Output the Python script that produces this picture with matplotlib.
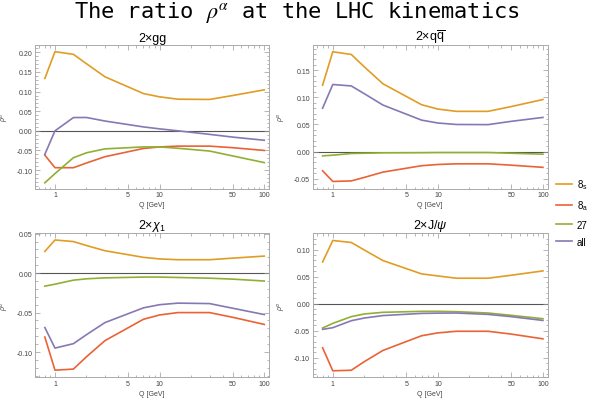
import matplotlib
matplotlib.use('Agg')
import matplotlib.pyplot as plt
from matplotlib.lines import Line2D
from matplotlib.ticker import FixedLocator, MultipleLocator, FuncFormatter, NullFormatter

plt.rcParams['font.family'] = ['Liberation Sans', 'DejaVu Sans']
plt.rcParams['mathtext.fontset'] = 'custom'
plt.rcParams['mathtext.rm'] = 'Liberation Sans'
plt.rcParams['mathtext.it'] = 'Liberation Sans:italic'

# energy scale points
Q = [0.8, 1, 1.5, 2, 3, 7, 10, 15, 30, 50, 100]

# 2 x gg
gg_8s = [0.1335, 0.2017, 0.195, 0.171, 0.1378, 0.095, 0.0866, 0.0806, 0.080, 0.090, 0.1045]
gg_8a = [-0.062, -0.094, -0.094, -0.082, -0.066, -0.045, -0.041, -0.039, -0.039, -0.043, -0.050]
gg_27 = [-0.1325, -0.109, -0.0685, -0.056, -0.046, -0.041, -0.041, -0.0445, -0.0515, -0.064, -0.081]
gg_all = [-0.060, 0.0, 0.0338, 0.034, 0.025, 0.010, 0.005, 0.0, -0.009, -0.016, -0.024]

# 2 x q qbar
qq_8s = [0.1225, 0.184, 0.179, 0.156, 0.125, 0.0864, 0.0784, 0.0742, 0.0742, 0.083, 0.096]
qq_8a = [-0.0353, -0.055, -0.054, -0.0475, -0.0378, -0.026, -0.0237, -0.0225, -0.0225, -0.025, -0.029]
qq_27 = [-0.0078, -0.0066, -0.0035, -0.003, -0.0023, -0.002, -0.0017, -0.0017, -0.0017, -0.003, -0.0047]
qq_all = [0.080, 0.1237, 0.121, 0.1066, 0.0858, 0.058, 0.0527, 0.050, 0.0497, 0.0558, 0.063]

# 2 x chi_1
chi_8s = [0.0275, 0.042, 0.040, 0.035, 0.0284, 0.020, 0.018, 0.017, 0.017, 0.019, 0.0216]
chi_8a = [-0.081, -0.123, -0.1216, -0.106, -0.0856, -0.0585, -0.053, -0.050, -0.050, -0.056, -0.065]
chi_27 = [-0.0165, -0.014, -0.0089, -0.0072, -0.006, -0.005, -0.005, -0.0055, -0.0064, -0.0076, -0.010]
chi_all = [-0.069, -0.095, -0.0894, -0.078, -0.0627, -0.044, -0.040, -0.038, -0.0386, -0.0445, -0.0525]

# 2 x J/psi
jp_8s = [0.077, 0.1167, 0.113, 0.099, 0.0796, 0.055, 0.0512, 0.047, 0.047, 0.0525, 0.0605]
jp_8a = [-0.0815, -0.124, -0.123, -0.107, -0.0864, -0.0593, -0.054, -0.051, -0.051, -0.0562, -0.065]
jp_27 = [-0.045, -0.0364, -0.024, -0.019, -0.016, -0.0142, -0.0142, -0.0148, -0.0173, -0.0216, -0.0278]
jp_all = [-0.0475, -0.0444, -0.0315, -0.0265, -0.022, -0.018, -0.0175, -0.0173, -0.0198, -0.024, -0.031]

labels = [r'8$_\mathrm{s}$', r'8$_\mathrm{a}$', '27', 'all']
colors = ['#E19C24', '#EB6235', '#8FB032', '#8778B3']

panels = [
    (r'2×gg', [gg_8s, gg_8a, gg_27, gg_all], (-0.147, 0.2195)),
    (r'2×q$\overline{\mathrm{q}}$', [qq_8s, qq_8a, qq_27, qq_all], (-0.068, 0.197)),
    (r'2×$\chi_1$', [chi_8s, chi_8a, chi_27, chi_all], (-0.132, 0.0505)),
    (r'2×J/$\psi$', [jp_8s, jp_8a, jp_27, jp_all], (-0.136, 0.130)),
]
# axes rectangles in figure fraction
rects = [
    [0.0586, 0.5286, 0.392, 0.3577],
    [0.5238, 0.5286, 0.3936, 0.3577],
    [0.0586, 0.059, 0.392, 0.3582],
    [0.5238, 0.059, 0.3936, 0.3582],
]

fig = plt.figure(figsize=(5.97, 4.02), dpi=100)

minor_x = [0.7, 0.8, 0.9, 2, 3, 4, 6, 7, 8, 9, 20, 30, 40, 60, 70, 80, 90]

for (title, series, ylim), rect in zip(panels, rects):
    ax = fig.add_axes(rect)
    ax.axhline(0, color='#555555', lw=0.8, zorder=1)
    for s, c in zip(series, colors):
        ax.plot(Q, s, color=c, lw=1.2, zorder=2)
    ax.set_xscale('log')
    ax.set_xlim(0.644, 111)
    ax.set_ylim(*ylim)
    ax.xaxis.set_major_locator(FixedLocator([1, 5, 10, 50, 100]))
    ax.xaxis.set_major_formatter(FuncFormatter(lambda v, p: '%g' % v))
    ax.xaxis.set_minor_locator(FixedLocator(minor_x))
    ax.xaxis.set_minor_formatter(NullFormatter())
    ax.yaxis.set_major_locator(MultipleLocator(0.05))
    ax.yaxis.set_minor_locator(MultipleLocator(0.01))
    ax.yaxis.set_major_formatter(FuncFormatter(lambda v, p: '%.2f' % (round(v, 4) + 0.0)))
    ax.tick_params(which='both', direction='in', top=True, right=True,
                   color='#999999', labelcolor='#444444', labelsize=5, pad=2, width=0.5)
    ax.tick_params(which='major', length=3.5)
    ax.tick_params(which='minor', length=1.8)
    for sp in ax.spines.values():
        sp.set_color('#aaaaaa')
        sp.set_linewidth(0.7)
    ax.set_title(title, fontsize=9, pad=3)
    ax.set_xlabel('Q [GeV]', fontsize=5, color='#444444', labelpad=2)
    ax.set_ylabel(r'$\rho^\alpha$', fontsize=5, color='#444444', labelpad=4)

fig.text(0.497, 0.97, r'The ratio $\rho^\alpha$ at the LHC kinematics', ha='center', va='center',
         fontsize=15.8, family='DejaVu Sans Mono', math_fontfamily='stix')

handles = [Line2D([], [], color=c, lw=1.2) for c in colors]
fig.legend(handles, labels, loc='center left', bbox_to_anchor=(0.925, 0.47), frameon=False,
           fontsize=7, handlelength=1.6, handletextpad=0.5, labelspacing=0.75, borderaxespad=0)

fig.savefig('out.png', dpi=100)
